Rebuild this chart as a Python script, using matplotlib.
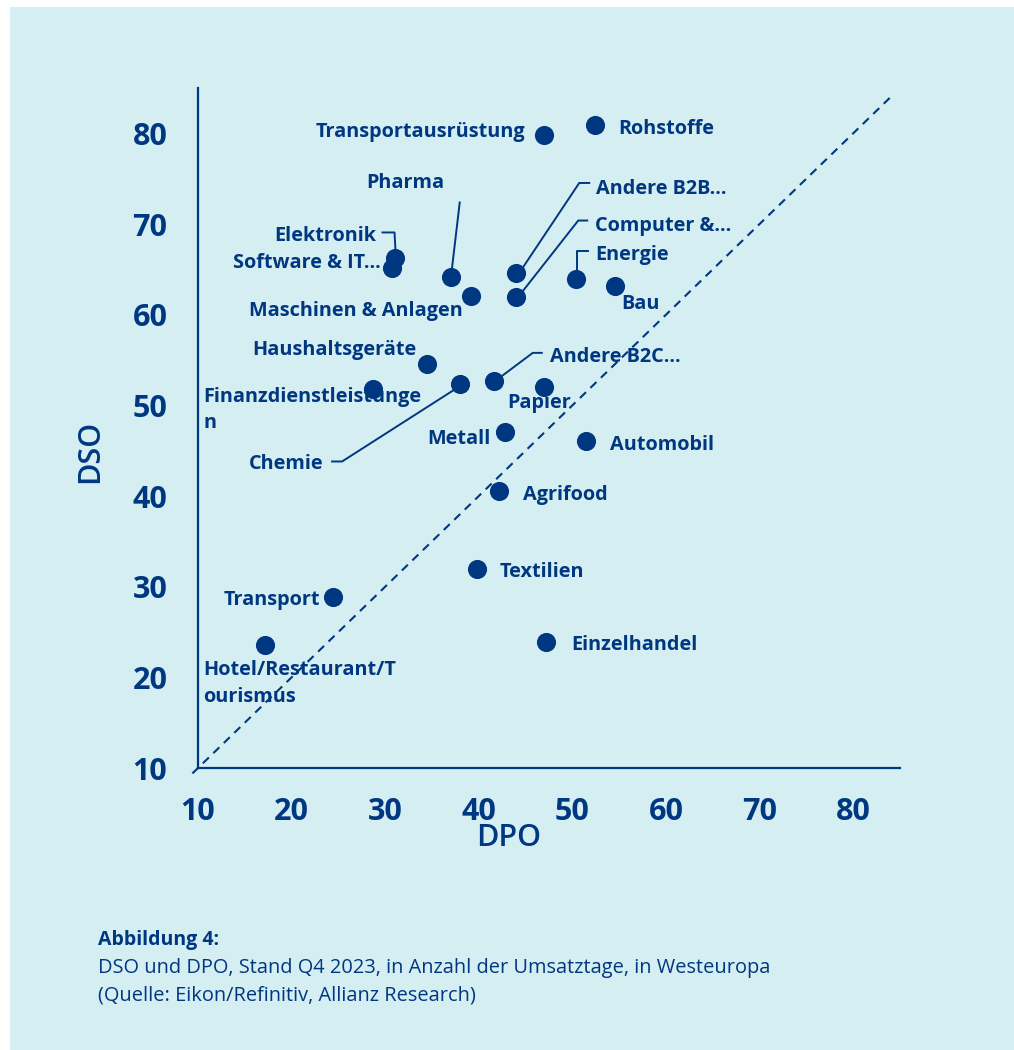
import matplotlib
matplotlib.use("Agg")
import matplotlib.pyplot as plt
from matplotlib.patches import Rectangle

# DPO / DSO per sector, Westeuropa Q4 2023
sectors = ["Rohstoffe", "Transportausrüstung", "Pharma", "Elektronik", "Software & IT...",
           "Maschinen & Anlagen", "Andere B2B...", "Computer &...", "Energie", "Bau",
           "Haushaltsgeräte", "Finanzdienstleistunge\nn", "Chemie", "Andere B2C...",
           "Papier", "Metall", "Automobil", "Agrifood", "Textilien", "Einzelhandel",
           "Transport", "Hotel/Restaurant/T\nourismus"]
dpo = [52.4, 47.0, 37.0, 31.1, 30.7, 39.2, 44.0, 44.0, 50.4, 54.6,
       34.5, 28.7, 38.0, 41.6, 47.0, 42.8, 51.5, 42.2, 39.8, 47.2, 24.4, 17.2]
dso = [80.9, 79.8, 64.1, 66.2, 65.2, 62.1, 64.6, 62.0, 63.9, 63.2,
       54.6, 51.8, 52.3, 52.7, 52.0, 47.1, 46.1, 40.6, 31.9, 23.9, 28.9, 23.6]
ticks = [10, 20, 30, 40, 50, 60, 70, 80]

NAVY = "#003781"
BG = "#d5eef2"
FONT = "Open Sans"

# label placement in pixels relative to the dot: (dx, dy, ha)
label_pos = {
    "Rohstoffe": (23, -1, "left"),
    "Transportausrüstung": (-19, 6, "right"),
    "Pharma": (-45, 97, "center"),
    "Elektronik": (-19, 25, "right"),
    "Software & IT...": (-11, 8, "right"),
    "Maschinen & Anlagen": (-9, -12, "right"),
    "Andere B2B...": (80, 87, "left"),
    "Computer &...": (79, 74, "left"),
    "Energie": (19, 27, "left"),
    "Bau": (6, -15, "left"),
    "Haushaltsgeräte": (-11, 17, "right"),
    "Finanzdienstleistunge\nn": (-170, -18, "left"),
    "Chemie": (-137, -77, "right"),
    "Andere B2C...": (56, 27, "left"),
    "Papier": (-37, -13, "left"),
    "Metall": (-14, -4, "right"),
    "Automobil": (24, -1, "left"),
    "Agrifood": (24, -1, "left"),
    "Textilien": (23, 0, "left"),
    "Einzelhandel": (25, 0, "left"),
    "Transport": (-13, 0, "right"),
    "Hotel/Restaurant/T\nourismus": (-62, -36, "left"),
}
# leader lines, pixel offsets from the dot
leaders = {
    "Pharma": [(1, 7), (9, 75)],
    "Elektronik": [(0, 8), (-1, 26), (-13, 26)],
    "Andere B2B...": [(7, 6), (63, 90), (73, 90)],
    "Computer &...": [(7, 6), (62, 76), (71, 76)],
    "Energie": [(1, 9), (1, 28), (12, 28)],
    "Chemie": [(-7, -6), (-118, -77), (-128, -77)],
    "Andere B2C...": [(7, 4), (39, 28), (48, 28)],
}

fig = plt.figure(figsize=(10.14, 10.5), dpi=100)
fig.patch.set_facecolor("white")
fig.patches.append(Rectangle((10 / 1014, 0), 1, 1 - 7 / 1050, transform=fig.transFigure,
                             facecolor=BG, edgecolor="none", zorder=-1))

ax = fig.add_axes([198 / 1014, 282 / 1050, 702 / 1014, 680 / 1050])
ax.set_zorder(1)
ax.set_facecolor("none")
ax.set_xlim(10, 85)
ax.set_ylim(10, 85)
for s in ["top", "right"]:
    ax.spines[s].set_visible(False)
for s in ["left", "bottom"]:
    ax.spines[s].set_color(NAVY)
    ax.spines[s].set_linewidth(1.6)

ax.set_xticks(ticks)
ax.set_yticks(ticks)
ax.tick_params(length=0, colors=NAVY)
ax.tick_params(axis="x", pad=21)
ax.tick_params(axis="y", pad=22)
for lab in ax.get_xticklabels() + ax.get_yticklabels():
    lab.set_fontfamily(FONT)
    lab.set_fontweight("bold")
    lab.set_fontsize(22)
ax.set_xlabel("DPO", fontfamily=FONT, fontsize=22, fontweight="semibold", color=NAVY, va="center")
ax.set_ylabel("DSO", fontfamily=FONT, fontsize=22, fontweight="semibold", color=NAVY, va="center")
ax.xaxis.set_label_coords(0.442, -0.103)
ax.yaxis.set_label_coords(-0.154, 0.465)

# diagonal DSO = DPO
ax.plot([9.4, 84.2], [9.4, 84.2], ls=(0, (4, 3)), color=NAVY, lw=1.5, clip_on=False, zorder=1)

ax.scatter(dpo, dso, s=190, color=NAVY, zorder=3, clip_on=False, linewidths=0)

fig.canvas.draw()
to_data = ax.transData.inverted()
for name, x, y in zip(sectors, dpo, dso):
    dx, dy, ha = label_pos[name]
    ax.annotate(name, (x, y), xytext=(dx, dy - 3), textcoords="offset pixels",
                ha=ha, va="center", fontfamily=FONT, fontweight="bold", fontsize=14.3,
                color=NAVY, zorder=2, linespacing=1.45, annotation_clip=False)
    if name in leaders:
        px, py = ax.transData.transform((x, y))
        pts = [to_data.transform((px + ox, py + oy)) for ox, oy in leaders[name]]
        ax.plot([p[0] for p in pts], [p[1] for p in pts], color=NAVY, lw=1.4,
                clip_on=False, zorder=2)

fig.text(98 / 1014, 1 - 940 / 1050, "Abbildung 4:", fontfamily=FONT, fontweight="bold",
         fontsize=14, color=NAVY, va="center")
fig.text(98 / 1014, 1 - 968 / 1050, "DSO und DPO, Stand Q4 2023, in Anzahl der Umsatztage, in Westeuropa",
         fontfamily=FONT, fontsize=14.4, color=NAVY, va="center")
fig.text(98 / 1014, 1 - 995 / 1050, "(Quelle: Eikon/Refinitiv, Allianz Research)",
         fontfamily=FONT, fontsize=14.4, color=NAVY, va="center")

fig.savefig("out.png", dpi=100)
